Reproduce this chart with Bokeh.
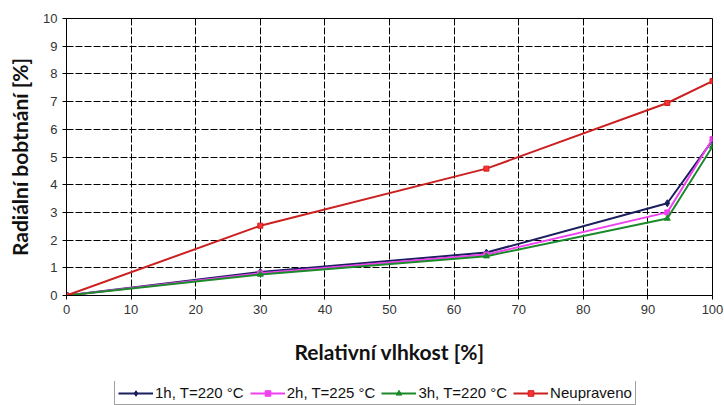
from bokeh.plotting import figure
from bokeh.layouts import column
from bokeh.models import Legend, LegendItem, FixedTicker, Range1d
from bokeh.embed import file_html
from bokeh.resources import INLINE

humidity = [0, 30, 65, 93, 100]
s_1h = [0, 0.85, 1.55, 3.33, 5.6]
s_2h = [0, 0.80, 1.48, 3.0, 5.65]
s_3h = [0, 0.76, 1.42, 2.78, 5.38]
s_raw = [0, 2.52, 4.58, 6.95, 7.74]
x_ticks = [0, 10, 20, 30, 40, 50, 60, 70, 80, 90, 100]
y_ticks = [0, 1, 2, 3, 4, 5, 6, 7, 8, 9, 10]

series = [
    ("1h, T=220 °C", s_1h, "#1b1f5e", "#1b1f5e", "diamond", 7),
    ("2h, T=225 °C", s_2h, "#f040f0", "#f040f0", "square", 5),
    ("3h, T=220 °C", s_3h, "#1a8a2a", "#1a8a2a", "triangle", 6),
    ("Neupraveno", s_raw, "#cc2020", "#ff3030", "square", 5),
]

p = figure(width=724, height=381, output_backend="svg", toolbar_location=None,
           x_range=Range1d(0, 100), y_range=Range1d(0, 10),
           min_border_left=66, min_border_right=12, min_border_top=18, min_border_bottom=86)
p.background_fill_color = "white"
p.border_fill_color = "white"
p.outline_line_color = "black"
p.outline_line_width = 1

for ax in (p.xaxis, p.yaxis):
    ax.axis_line_color = "black"
    ax.major_tick_line_color = "black"
    ax.minor_tick_line_color = None
    ax.major_tick_out = 4
    ax.major_tick_in = 0
    ax.major_label_text_font = "Liberation Sans"
    ax.major_label_text_font_size = "13px"
    ax.major_label_text_color = "#333333"
    ax.axis_label_text_font = "Lato"
    ax.axis_label_text_font_style = "bold"
    ax.axis_label_text_font_size = "21px"
    ax.axis_label_text_color = "#111111"

p.xaxis.ticker = FixedTicker(ticks=x_ticks)
p.yaxis.ticker = FixedTicker(ticks=y_ticks)
p.xaxis.axis_label = "Relativní vlhkost [%]"
p.yaxis.axis_label = "Radiální bobtnání [%]"
p.xaxis.axis_label_standoff = 22
p.yaxis.axis_label_standoff = 8

p.grid.grid_line_color = "black"
p.grid.grid_line_dash = "7 2"
p.grid.grid_line_width = 1

for name, ys, lc, fc, mk, sz in series:
    p.line(humidity, ys, line_color=lc, line_width=2)
    p.scatter(humidity, ys, marker=mk, size=sz, fill_color=fc, line_color=lc)

# legend strip below the chart (its glyphs are drawn off-view, only the legend shows)
lg = figure(width=724, height=24, output_backend="svg", toolbar_location=None,
            x_range=Range1d(1000, 1001), y_range=Range1d(1000, 1001),
            x_axis_type=None, y_axis_type=None,
            min_border_left=0, min_border_right=0, min_border_top=0, min_border_bottom=0)
lg.outline_line_color = None
lg.background_fill_color = "white"
lg.border_fill_color = "white"

items = []
for name, ys, lc, fc, mk, sz in series:
    rl = lg.line(humidity, ys, line_color=lc, line_width=2)
    rm = lg.scatter(humidity, ys, marker=mk, size=sz, fill_color=fc, line_color=lc)
    items.append(LegendItem(label=name, renderers=[rl, rm]))

legend = Legend(items=items, orientation="horizontal", location=(48, 0))
legend.label_text_font = "Liberation Sans"
legend.label_text_font_size = "15px"
legend.label_text_color = "#111111"
legend.glyph_width = 35
legend.glyph_height = 14
legend.label_standoff = 2
legend.spacing = 6
legend.padding = 3
legend.margin = 0
legend.border_line_color = "#444444"
legend.border_line_width = 1
legend.background_fill_alpha = 1
legend.label_height = 14
lg.add_layout(legend, "center")

layout = column(p, lg, spacing=0)
open("out.html", "w").write(file_html(layout, INLINE))
